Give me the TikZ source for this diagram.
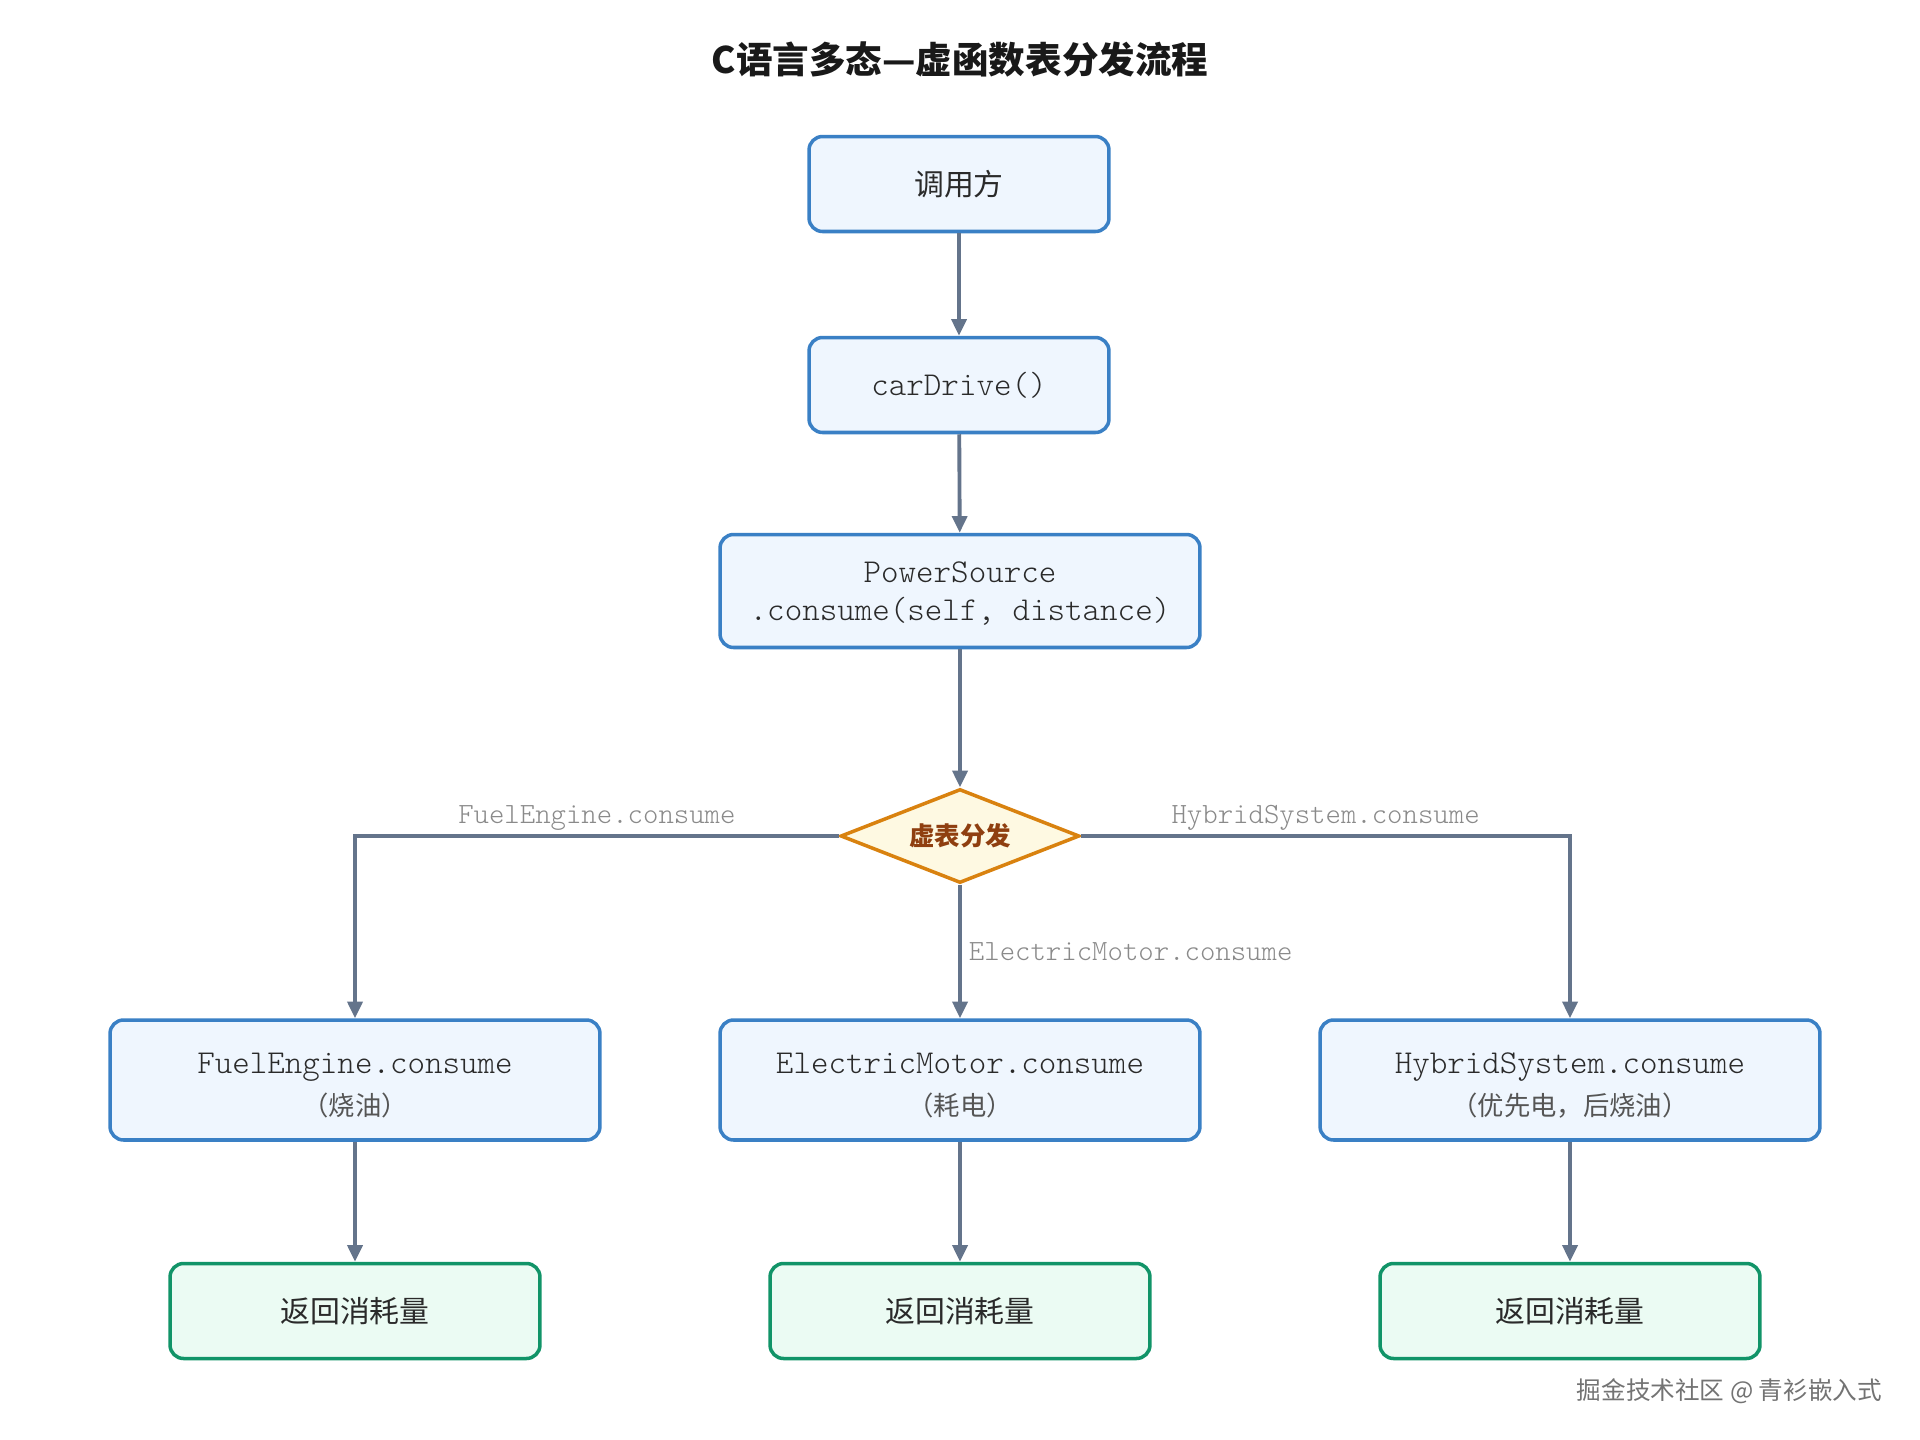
\documentclass[tikz,border=0pt]{standalone}
\usepackage{fontspec}
\setmonofont{Latin Modern Mono Light}
\newfontfamily\cjk{Noto Sans CJK SC}
\usepackage{xcolor}
\usepackage{tikz}
\usetikzlibrary{arrows.meta}
\usetikzlibrary{shapes.geometric}

\definecolor{boxline}{HTML}{3A80C5}
\definecolor{boxfill}{HTML}{EFF6FE}
\definecolor{retline}{HTML}{119468}
\definecolor{retfill}{HTML}{EBFBF3}
\definecolor{displine}{HTML}{D9820F}
\definecolor{dispfill}{HTML}{FEF9E2}
\definecolor{disptext}{HTML}{8F3F10}
\definecolor{linkcol}{HTML}{64748B}
\definecolor{labcol}{HTML}{8A8A8A}
\definecolor{txtcol}{HTML}{2A2A2A}
\definecolor{subcol}{HTML}{555555}

\begin{document}
\begin{tikzpicture}[x=0.02cm,y=-0.02cm,
  box/.style={draw=boxline, fill=boxfill, line width=2pt, rounded corners=0.27cm,
    text=txtcol, align=center, minimum width=#1, minimum height=1.9cm, inner sep=0pt},
  retbox/.style={draw=retline, fill=retfill, line width=2pt, rounded corners=0.27cm,
    text=txtcol, minimum width=#1, minimum height=1.9cm, inner sep=0pt,
    font=\cjk\fontsize{17}{20}\selectfont},
  code/.style={font=\ttfamily\fontsize{19}{21.5}\selectfont},
  link/.style={draw=linkcol, line width=2.2pt, -{Triangle[width=8.5pt,length=9.5pt]}},
  edgelab/.style={text=labcol, inner sep=2pt, font=\ttfamily\fontsize{16.7}{18}\selectfont}]

\useasboundingbox[fill=white] (0,0) rectangle (1920,1440);

% title
\node (title) at (960,59) {\cjk\bfseries\fontsize{20.8}{24}\selectfont\color{black!90}C语言多态—虚函数表分发流程};

% call chain
\node[box=6cm, font=\cjk\fontsize{17}{20}\selectfont] (caller) at (959,184) {调用方};
\node[box=6cm, code] (drive) at (959,385) {carDrive()};
\node[box=9.6cm, minimum height=2.26cm, code] (source) at (960,591) {\rule{0pt}{15pt}PowerSource\\.consume(self, distance)};

% dispatch
\node[diamond, aspect=2.5, draw=displine, fill=dispfill, line width=2pt, minimum width=4.78cm,
  minimum height=1.88cm, inner sep=0pt, text=disptext,
  font=\cjk\bfseries\fontsize{14.5}{16}\selectfont] (disp) at (960,836) {虚表分发};

% implementations
\node[box=9.8cm, minimum height=2.4cm, code] (fuel) at (355,1080)
  {\rule{0pt}{18pt}FuelEngine.consume\\[2.5pt]{\cjk\fontsize{15}{18}\selectfont\color{subcol}（烧油）}};
\node[box=9.6cm, minimum height=2.4cm, code] (elec) at (960,1080)
  {\rule{0pt}{18pt}ElectricMotor.consume\\[2.5pt]{\cjk\fontsize{15}{18}\selectfont\color{subcol}（耗电）}};
\node[box=10cm, minimum height=2.4cm, code] (hyb) at (1570,1080)
  {\rule{0pt}{18pt}HybridSystem.consume\\[2.5pt]{\cjk\fontsize{15}{18}\selectfont\color{subcol}（优先电，后烧油）}};

% results
\node[retbox=7.4cm] (fuelret) at (355,1311) {返回消耗量};
\node[retbox=7.6cm] (elecret) at (960,1311) {返回消耗量};
\node[retbox=7.6cm] (hybret) at (1570,1311) {返回消耗量};

\draw[link] (caller) -- (drive);
\draw[link] (drive) -- (source);
\draw[link] (source) -- (disp);
\draw[link] (disp.west) -| node[pos=0.25, above, edgelab] {FuelEngine.consume} (fuel.north);
\draw[link] (disp.south) -- node[right, edgelab, inner sep=4pt] {ElectricMotor.consume} (elec.north);
\draw[link] (disp.east) -| node[pos=0.25, above, edgelab] {HybridSystem.consume} (hyb.north);
\draw[link] (fuel) -- (fuelret);
\draw[link] (elec) -- (elecret);
\draw[link] (hyb) -- (hybret);

% watermark
\node[anchor=east, text=black!55, font=\cjk\fontsize{14}{16}\selectfont] (mark) at (1888,1391) {掘金技术社区 @ 青衫嵌入式};

\end{tikzpicture}
\end{document}
